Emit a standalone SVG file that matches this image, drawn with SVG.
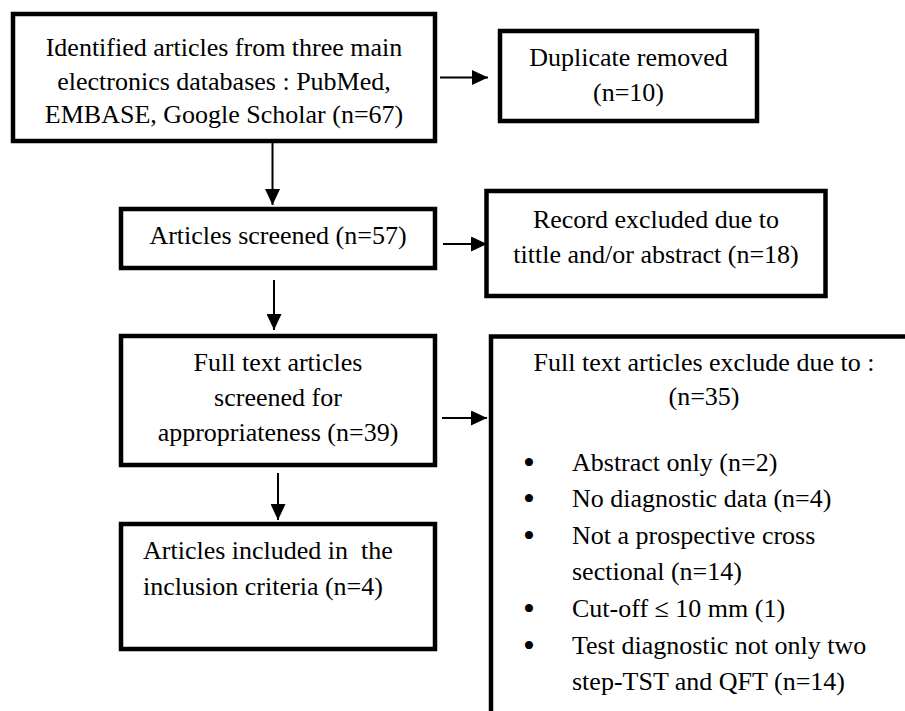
<svg xmlns="http://www.w3.org/2000/svg" width="905" height="711" viewBox="0 0 905 711">
<style>
  .box { fill: #ffffff; stroke: #000000; stroke-width: 4.5; }
  .open { fill: none; stroke: #000000; stroke-width: 4.5; }
  .t { font-family: "Liberation Serif", "Times New Roman", serif; font-size: 26px; fill: #000000; }
  .c { text-anchor: middle; }
  .bul { font-family: "Liberation Serif", "Times New Roman", serif; font-size: 34px; fill: #000000; text-anchor: middle; }
  .conn line { stroke: #000000; stroke-width: 2; marker-end: url(#ah); }
</style>
<defs>
  <marker id="ah" markerUnits="userSpaceOnUse" markerWidth="16" markerHeight="15" viewBox="0 0 16 15" refX="16" refY="7.5" orient="auto">
    <path d="M0,0 L16,7.5 L0,15 Z" fill="#000000"/>
  </marker>
</defs>
<rect width="905" height="711" fill="#ffffff"/>

<g id="identified">
  <rect class="box" x="13" y="14" width="422" height="127"/>
  <text class="t c" x="224" y="56">Identified articles from three main</text>
  <text class="t c" x="224" y="90">electronics databases : PubMed,</text>
  <text class="t c" x="224" y="123">EMBASE, Google Scholar (n=67)</text>
</g>

<g id="duplicate">
  <rect class="box" x="500" y="31" width="257" height="90"/>
  <text class="t c" x="628.5" y="66">Duplicate removed</text>
  <text class="t c" x="628.5" y="101">(n=10)</text>
</g>

<g id="screened">
  <rect class="box" x="121" y="209" width="314" height="59"/>
  <text class="t c" x="278" y="244">Articles screened (n=57)</text>
</g>

<g id="record-excluded">
  <rect class="box" x="486.5" y="191" width="339" height="105"/>
  <text class="t c" x="656" y="228">Record excluded due to</text>
  <text class="t c" x="656" y="263">tittle and/or abstract (n=18)</text>
</g>

<g id="fulltext-screened">
  <rect class="box" x="121" y="336" width="314" height="129"/>
  <text class="t c" x="278" y="371">Full text articles</text>
  <text class="t c" x="278" y="406">screened for</text>
  <text class="t c" x="278" y="441">appropriateness (n=39)</text>
</g>

<g id="included">
  <rect class="box" x="121" y="524" width="314" height="125"/>
  <text class="t" x="143" y="559" xml:space="preserve">Articles included in  the</text>
  <text class="t" x="143" y="595">inclusion criteria (n=4)</text>
</g>

<g id="fulltext-excluded">
  <path class="open" d="M491,715 L491,336.5 L910,336.5"/>
  <text class="t c" x="704" y="371">Full text articles exclude due to :</text>
  <text class="t c" x="704" y="405">(n=35)</text>
  <text class="bul" x="529" y="474">•</text>
  <text class="t" x="572" y="471">Abstract only (n=2)</text>
  <text class="bul" x="529" y="510">•</text>
  <text class="t" x="572" y="507">No diagnostic data (n=4)</text>
  <text class="bul" x="529" y="547">•</text>
  <text class="t" x="572" y="544">Not a prospective cross</text>
  <text class="t" x="572" y="580">sectional (n=14)</text>
  <text class="bul" x="529" y="620">•</text>
  <text class="t" x="572" y="617">Cut-off ≤ 10 mm (1)</text>
  <text class="bul" x="529" y="657">•</text>
  <text class="t" x="572" y="654">Test diagnostic not only two</text>
  <text class="t" x="572" y="690">step-TST and QFT (n=14)</text>
</g>

<g id="connectors" class="conn">
  <line x1="440" y1="77.5" x2="488" y2="77.5"/>
  <line x1="272.5" y1="143" x2="272.5" y2="205"/>
  <line x1="443" y1="244" x2="487" y2="244"/>
  <line x1="274" y1="280" x2="274" y2="330"/>
  <line x1="442" y1="418" x2="487" y2="418"/>
  <line x1="278" y1="473" x2="278" y2="520"/>
</g>
</svg>
